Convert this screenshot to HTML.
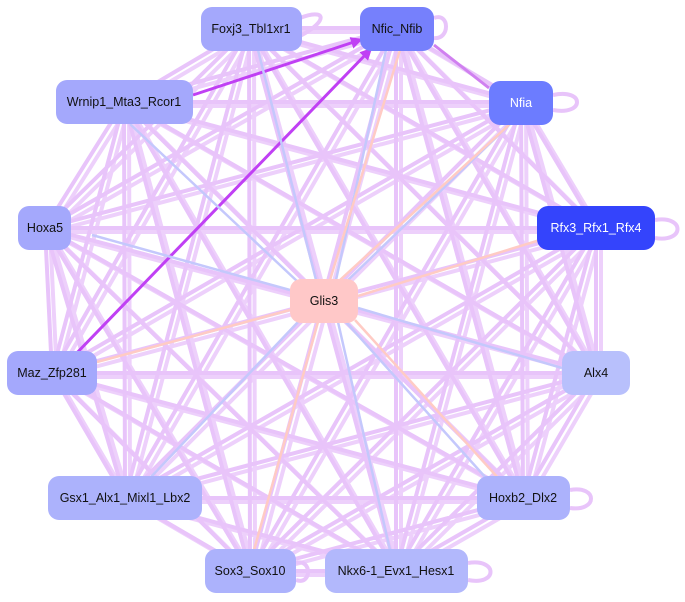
<!DOCTYPE html>
<html><head><meta charset="utf-8"><style>
body{margin:0;background:#fff;width:685px;height:602px;overflow:hidden}
svg{display:block}
text{font-family:"Liberation Sans",sans-serif;font-size:12.5px;text-anchor:middle;dominant-baseline:central;fill:#111}
</style></head><body>
<svg width="685" height="602" viewBox="0 0 685 602">
<defs>
<marker id="b" markerWidth="4" markerHeight="4" refX="3" refY="2" orient="auto" markerUnits="strokeWidth"><path d="M0,0L4,2L0,4z" fill="#c040f4"/></marker>
<path id="E" d="M249,28L396,28M249,28L521,102M249,28L596,228M249,28L596,373M249,28L523,498M249,28L396,571M249,28L250,571M249,28L125,498M249,28L52,373M249,28L45,228M249,28L124,102
M396,28L521,102M396,28L596,228M396,28L596,373M396,28L523,498M396,28L396,571M396,28L250,571M396,28L125,498M396,28L45,228M396,28L124,102
M521,102L596,228M521,102L596,373M521,102L523,498M521,102L396,571M521,102L250,571M521,102L125,498M521,102L52,373M521,102L45,228M521,102L124,102
M596,228L596,373M596,228L523,498M596,228L396,571M596,228L250,571M596,228L125,498M596,228L52,373M596,228L45,228M596,228L124,102
M596,373L523,498M596,373L396,571M596,373L250,571M596,373L125,498M596,373L52,373M596,373L45,228M596,373L124,102
M523,498L396,571M523,498L250,571M523,498L125,498M523,498L52,373M523,498L45,228M523,498L124,102
M396,571L250,571M396,571L125,498M396,571L52,373M396,571L45,228M396,571L124,102
M250,571L125,498M250,571L52,373M250,571L45,228M250,571L124,102
M125,498L52,373M125,498L45,228M125,498L124,102M52,373L45,228M52,373L124,102M45,228L124,102"/>
</defs>
<g stroke="#e8c4fa" stroke-width="4" fill="none">
<use href="#E"/>
<use href="#E" transform="translate(5,4)" opacity="0.8"/>
<path d="M300,18C325,8 330,20 300,36M434,18C450,12 450,40 434,38M553,95C585,88 585,116 553,110M655,220C685,215 685,243 655,238M570,490C598,485 598,512 570,508M468,563C498,558 498,586 468,580M296,563C312,558 312,586 296,580"/>
</g>
<g fill="none" stroke-width="3">
<path d="M193,95L360,40" stroke="#c040f4" marker-end="url(#b)"/>
<path d="M70,360L370,50" stroke="#c040f4" marker-end="url(#b)"/>
<path d="M434,45L489,88" stroke="#d080f0"/>
<path d="M258,50L316,280M386,50L336,280M92,235L290,290M150,478L298,322M130,124L298,282M510,124L348,280M562,368L358,308M486,478L346,322M390,550L338,322" stroke="#c4c8fc" stroke-width="2.5"/>
<path d="M400,50L330,280M510,124L340,280M540,240L358,296M290,310L97,362M500,480L355,320M254,550L318,322" stroke="#ffcbc4" stroke-width="2.5"/>
</g>
<g>
<rect x="201" y="7" width="101" height="44" rx="11" fill="#a4a8fc"/><text x="251" y="29">Foxj3_Tbl1xr1</text>
<rect x="360" y="7" width="74" height="44" rx="11" fill="#7680fc"/><text x="397" y="29">Nfic_Nfib</text>
<rect x="489" y="81" width="64" height="44" rx="11" fill="#6c7cff"/><text x="521" y="103" style="fill:#fff">Nfia</text>
<rect x="537" y="206" width="118" height="44" rx="11" fill="#3444fc"/><text x="596" y="228" style="fill:#fff">Rfx3_Rfx1_Rfx4</text>
<rect x="562" y="351" width="68" height="44" rx="11" fill="#b8c0fc"/><text x="596" y="373">Alx4</text>
<rect x="477" y="476" width="93" height="44" rx="11" fill="#acb2fc"/><text x="523" y="498">Hoxb2_Dlx2</text>
<rect x="325" y="549" width="143" height="44" rx="11" fill="#b2b8fc"/><text x="396" y="571">Nkx6-1_Evx1_Hesx1</text>
<rect x="205" y="549" width="91" height="44" rx="11" fill="#acb2fc"/><text x="250" y="571">Sox3_Sox10</text>
<rect x="48" y="476" width="154" height="44" rx="11" fill="#acb2fc"/><text x="125" y="498">Gsx1_Alx1_Mixl1_Lbx2</text>
<rect x="7" y="351" width="90" height="44" rx="11" fill="#a4a8fc"/><text x="52" y="373">Maz_Zfp281</text>
<rect x="18" y="206" width="53" height="44" rx="11" fill="#a4a8fc"/><text x="45" y="228">Hoxa5</text>
<rect x="56" y="80" width="137" height="44" rx="11" fill="#a4a8fc"/><text x="124" y="102">Wrnip1_Mta3_Rcor1</text>
<rect x="290" y="279" width="68" height="44" rx="11" fill="#ffc8c8"/><text x="324" y="301">Glis3</text>
</g>
</svg>
</body></html>
